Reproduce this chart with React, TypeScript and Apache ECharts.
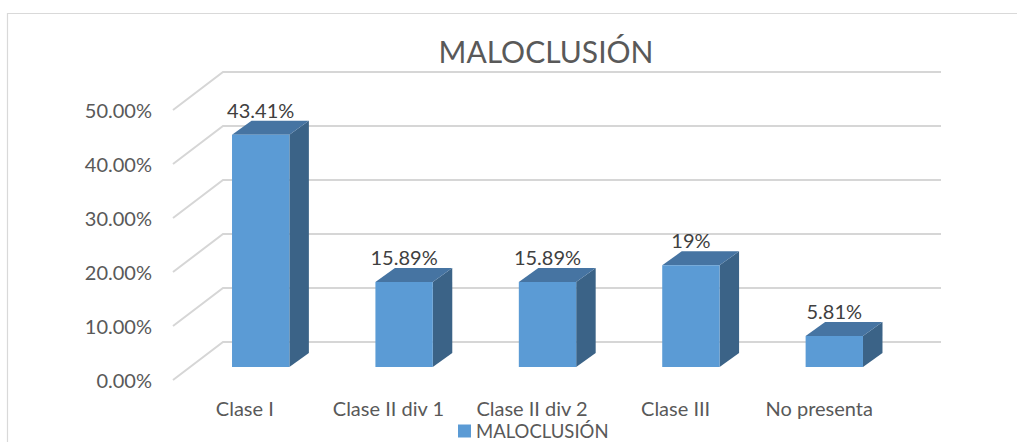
import { useEffect, useRef } from 'react';
import * as echarts from 'echarts';

const categories = ['Clase I', 'Clase II div 1', 'Clase II div 2', 'Clase III', 'No presenta'];
const values = [43.41, 15.89, 15.89, 19, 5.81];
const yTicks = [0, 10, 20, 30, 40, 50];
const seriesName = 'MALOCLUSIÓN';
const chartTitle = 'MALOCLUSIÓN';

const FONT = 'Lato, "Noto Sans", sans-serif';
const WALL_DX = 50;
const WALL_DY = -38;
const BAR_DX = 19.5;
const BAR_DY = -14;

const fmtValue = (v: number) => (Number.isInteger(v) ? `${v}%` : `${v.toFixed(2)}%`);

export default function App() {
  const ref = useRef<HTMLDivElement>(null);
  useEffect(() => {
    const chart = echarts.init(ref.current!, undefined, { renderer: 'svg' });
    chart.setOption({
      animation: false,
      backgroundColor: '#ffffff',
      title: {
        text: chartTitle,
        left: 541,
        top: 31,
        textAlign: 'center',
        textStyle: { fontFamily: FONT, fontSize: 30, fontWeight: 'normal', color: '#595959' },
      },
      legend: {
        data: [seriesName],
        left: 458,
        top: 420,
        icon: 'rect',
        itemWidth: 13,
        itemHeight: 13,
        itemGap: 6,
        padding: 0,
        selectedMode: false,
        textStyle: { fontFamily: FONT, fontSize: 18.5, lineHeight: 22, color: '#595959' },
      },
      graphic: [
        {
          type: 'rect',
          silent: true,
          shape: { x: 7.5, y: 13.5, width: 1100, height: 500 },
          style: { fill: 'none', stroke: '#D9D9D9', lineWidth: 1.2 },
        },
      ],
      grid: [
        { left: 173, right: 126, top: 110, bottom: 62 },
        { left: 189, right: 111, top: 99.5, bottom: 75 },
      ],
      xAxis: [
        {
          gridIndex: 0,
          type: 'category',
          data: categories,
          axisLine: { show: false },
          axisTick: { show: false },
          splitLine: { show: false },
          axisLabel: { margin: 16, lineHeight: 24, fontFamily: FONT, fontSize: 20, color: '#595959', interval: 0 },
        },
        { gridIndex: 1, type: 'category', data: categories, show: false },
      ],
      yAxis: [
        {
          gridIndex: 0,
          type: 'value',
          min: 0,
          max: 50,
          interval: 10,
          axisLine: { show: false },
          axisTick: { show: false },
          splitLine: { show: false },
          axisLabel: {
            margin: 21,
            formatter: (v: number) => `${v.toFixed(2)}%`,
            fontFamily: FONT,
            fontSize: 20,
            color: '#595959',
          },
        },
        { gridIndex: 1, type: 'value', min: 0, max: 50, show: false },
      ],
      series: [
        {
          type: 'custom',
          name: 'grid3d',
          xAxisIndex: 0,
          yAxisIndex: 0,
          clip: false,
          silent: true,
          z: 1,
          data: yTicks.map((v) => [0, v]),
          renderItem: (_params: any, api: any) => {
            const v = api.value(1);
            const p = api.coord([0, v]);
            const band = api.size([1, 0])[0];
            const x0 = p[0] - band / 2;
            const x1 = api.coord([categories.length - 1, v])[0] + band / 2;
            return {
              type: 'polyline',
              shape: {
                points: [
                  [x0, p[1]],
                  [x0 + WALL_DX, p[1] + WALL_DY],
                  [x1 + WALL_DX, p[1] + WALL_DY],
                ],
              },
              style: { stroke: '#D6D6D6', lineWidth: 2, fill: null },
            };
          },
        },
        {
          type: 'custom',
          name: seriesName,
          xAxisIndex: 1,
          yAxisIndex: 1,
          clip: false,
          z: 2,
          itemStyle: { color: '#5B9BD5' },
          data: values.map((v, i) => [i, v]),
          renderItem: (_params: any, api: any) => {
            const i = api.value(0);
            const v = api.value(1);
            const top = api.coord([i, v]);
            const base = api.coord([i, 0]);
            const w = api.size([1, 0])[0] * 0.4;
            const xl = top[0] - w / 2;
            const xr = top[0] + w / 2;
            const yt = top[1];
            const yb = base[1];
            return {
              type: 'group',
              children: [
                {
                  type: 'polygon',
                  shape: {
                    points: [
                      [xr, yt],
                      [xr + BAR_DX, yt + BAR_DY],
                      [xr + BAR_DX, yb + BAR_DY],
                      [xr, yb],
                    ],
                  },
                  style: { fill: '#3B6387' },
                },
                {
                  type: 'polygon',
                  shape: {
                    points: [
                      [xl, yt],
                      [xl + BAR_DX, yt + BAR_DY],
                      [xr + BAR_DX, yt + BAR_DY],
                      [xr, yt],
                    ],
                  },
                  style: { fill: '#4674A2' },
                },
                {
                  type: 'rect',
                  shape: { x: xl, y: yt, width: w, height: yb - yt },
                  style: { fill: '#5B9BD5' },
                },
                {
                  type: 'text',
                  x: top[0],
                  y: yt + BAR_DY - 11,
                  style: {
                    text: fmtValue(v),
                    fill: '#404040',
                    font: `20px ${FONT}`,
                    textAlign: 'center',
                    textVerticalAlign: 'middle',
                  },
                },
              ],
            };
          },
        },
      ],
    });
    return () => chart.dispose();
  }, []);
  return <div ref={ref} style={{ position: 'absolute', left: 0, top: 0, width: 1017, height: 442 }} />;
}
